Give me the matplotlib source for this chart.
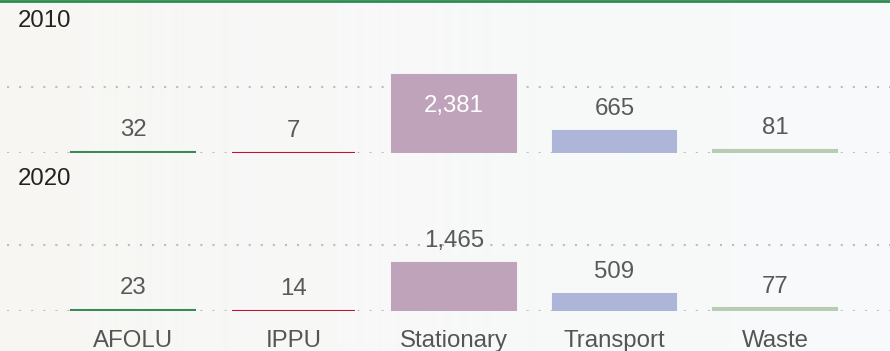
import numpy as np
import matplotlib
matplotlib.use("Agg")
import matplotlib.pyplot as plt

plt.rcParams['font.family'] = ['Liberation Sans', 'DejaVu Sans']

categories = ['AFOLU', 'IPPU', 'Stationary', 'Transport', 'Waste']
years = ['2010', '2020']
values_2010 = [32, 7, 2381, 665, 81]
values_2020 = [23, 14, 1465, 509, 77]
colors = ['#3a8a55', '#c8102e', '#bfa3bb', '#adb6d9', '#b8ccb3']

W, H = 890, 351
fig = plt.figure(figsize=(W / 100, H / 100), dpi=100)

# soft background: slightly warm on the left, cool on the right
bg = fig.add_axes([0, 0, 1, 1])
grad = np.linspace(0, 1, 256) ** 0.6
left = np.array([247, 246, 242]) / 255
right = np.array([247, 250, 251]) / 255
img = left[None, :] * (1 - grad[:, None]) + right[None, :] * grad[:, None]
bg.imshow(img[None, :, :], aspect='auto', extent=[0, 1, 0, 1])
bg.axis('off')

# green rule along the top
fig.add_artist(plt.Line2D([0, 1], [1 - 1 / H, 1 - 1 / H], color='#2e8b4f', lw=2))

ymax = 3450


def panel(base_px, year, vals, title_px):
    ax = fig.add_axes([7 / W, (H - base_px) / H, 883 / W, 113 / H])
    ax.patch.set_alpha(0)
    x = np.arange(len(categories))
    # edge keeps the tiny bars visible as a line
    ax.bar(x, vals, width=0.77, color=colors, edgecolor=colors,
           linewidth=1.5, zorder=3)
    for g in (0, 2000):
        ax.axhline(g, color='#bdbdbd', lw=1.5, ls=(0, (1, 4.8)), zorder=1)
    for xi, v in zip(x, vals):
        if v > 2000:
            ax.annotate(f'{v:,}', (xi, v), xytext=(0, -26.6), textcoords='offset points',
                        ha='center', va='baseline', fontsize=17.3, color='white', zorder=4)
        else:
            ax.annotate(f'{v:,}', (xi, v), xytext=(0, 11.5), textcoords='offset points',
                        ha='center', va='baseline', fontsize=17.3, color='#595959', zorder=4)
    ax.set_xlim(-0.785, 4.717)
    ax.set_ylim(0, ymax)
    ax.axis('off')
    fig.text(18 / W, 1 - title_px / H, year, fontsize=17.3, color='#222222', va='baseline')
    return ax


panel(153, years[0], values_2010, 27)
ax2 = panel(311, years[1], values_2020, 185)

for xi, name in enumerate(categories):
    ax2.annotate(name, (xi, 0), xytext=(0, -26), textcoords='offset points',
                 ha='center', va='baseline', fontsize=17.3, color='#555555',
                 annotation_clip=False)

fig.savefig('out.png', dpi=100)
